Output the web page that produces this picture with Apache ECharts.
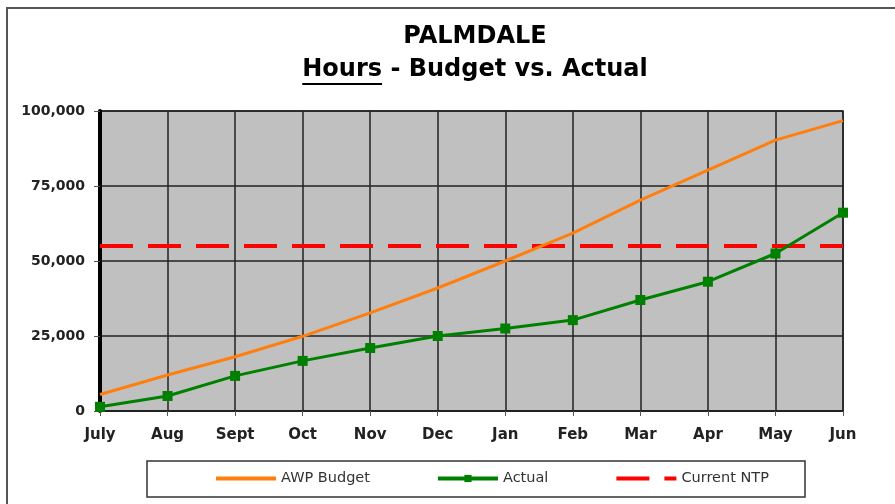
<!DOCTYPE html>
<html>
<head>
<meta charset="utf-8">
<script src="https://cdn.jsdelivr.net/npm/echarts@6/dist/echarts.min.js"></script>
<style>
    html, body { margin: 0; padding: 0; background: #fff; }
    #chartmain { width: 895px; height: 504px; }
</style>
</head>
<body>
<div id="chartmain"></div>
<script>
var months = ['July', 'Aug', 'Sept', 'Oct', 'Nov', 'Dec', 'Jan', 'Feb', 'Mar', 'Apr', 'May', 'Jun'];
var budget = [5500, 12000, 18100, 24900, 32700, 41000, 50000, 59300, 70300, 80300, 90300, 96800];
var actual = [1400, 5000, 11700, 16700, 21000, 25000, 27500, 30300, 37000, 43100, 52500, 66100];
var ntpValue = 55000;
var ntp = months.map(function () { return ntpValue; });
var yTicks = [0, 25000, 50000, 75000, 100000];

var font = '"DejaVu Sans", "Liberation Sans", Arial, sans-serif';

// 标题第二行 "Hours" 下划线
var titleFont = 'bold 24px ' + font;
var ctx = document.createElement('canvas').getContext('2d');
ctx.font = titleFont;
var line2 = 'Hours - Budget vs. Actual';
var w2 = ctx.measureText(line2).width;
var wHours = ctx.measureText('Hours').width;
var cx = 475;
var ulStart = cx - w2 / 2;

var option = {
    animation: false,
    backgroundColor: '#fff',
    graphic: [
        {
            type: 'rect',
            shape: { x: 7, y: 8, width: 900, height: 520 },
            style: { fill: 'none', stroke: '#555', lineWidth: 2 },
            z: -1
        },
        {
            type: 'text',
            x: cx, y: 37,
            style: {
                text: 'PALMDALE', font: titleFont,
                fill: '#000', align: 'center', verticalAlign: 'middle'
            }
        },
        {
            type: 'text',
            x: cx, y: 70,
            style: {
                text: line2, font: titleFont,
                fill: '#000', align: 'center', verticalAlign: 'middle'
            }
        },
        {
            type: 'line',
            shape: { x1: ulStart, y1: 84, x2: ulStart + wHours, y2: 84 },
            style: { stroke: '#000', lineWidth: 2 }
        },
        // 图例外框
        {
            type: 'rect',
            shape: { x: 147, y: 461, width: 658, height: 36 },
            style: { fill: '#fff', stroke: '#333', lineWidth: 1.5 },
            z: -1
        }
    ],
    legend: {
        left: 214,
        top: 471,
        padding: 0,
        itemWidth: 60,
        itemHeight: 9,
        itemGap: 66,
        lineStyle: { width: 4 },
        textStyle: { fontFamily: font, fontSize: 14.5, color: '#333' },
        data: [
            { name: 'AWP Budget', itemStyle: { color: 'rgba(0,0,0,0)', opacity: 0 } },
            { name: 'Actual' },
            { name: 'Current NTP', itemStyle: { color: 'rgba(0,0,0,0)', opacity: 0 } }
        ]
    },
    grid: {
        left: 100,
        right: 52,
        top: 111,
        bottom: 93,
        show: true,
        backgroundColor: '#c0c0c0',
        borderColor: '#222',
        borderWidth: 1.5
    },
    xAxis: {
        type: 'category',
        data: months,
        boundaryGap: false,
        axisLine: { lineStyle: { color: '#222', width: 2 } },
        axisTick: { show: true, length: 5, lineStyle: { color: '#555' } },
        axisLabel: {
            color: '#222', fontFamily: font, fontWeight: 'bold', fontSize: 15, margin: 17
        },
        splitLine: { show: true, lineStyle: { color: '#222', width: 1.5 } }
    },
    yAxis: {
        type: 'value',
        min: yTicks[0],
        max: yTicks[yTicks.length - 1],
        interval: yTicks[1] - yTicks[0],
        axisLine: { show: true, lineStyle: { color: '#000', width: 4 } },
        axisTick: { show: true, length: 6, lineStyle: { color: '#555' } },
        axisLabel: {
            color: '#222', fontFamily: font, fontWeight: 'bold', fontSize: 14, margin: 15,
            formatter: function (v) { return v.toLocaleString('en-US'); }
        },
        splitLine: { show: true, lineStyle: { color: '#222', width: 1.5 } }
    },
    series: [
        {
            name: 'AWP Budget',
            type: 'line',
            data: budget,
            symbol: 'none',
            lineStyle: { color: '#ff7f0e', width: 3 },
            itemStyle: { color: '#ff7f0e' },
            z: 3
        },
        {
            name: 'Actual',
            type: 'line',
            data: actual,
            symbol: 'rect',
            symbolSize: 10,
            lineStyle: { color: '#008000', width: 3 },
            itemStyle: { color: '#008000' },
            z: 4
        },
        {
            name: 'Current NTP',
            type: 'line',
            data: ntp,
            symbol: 'none',
            lineStyle: { color: '#ff0000', width: 4, type: [33, 15] },
            itemStyle: { color: '#ff0000' },
            z: 2
        }
    ]
};

var myChart = echarts.init(document.getElementById('chartmain'));
myChart.setOption(option);
</script>
</body>
</html>
